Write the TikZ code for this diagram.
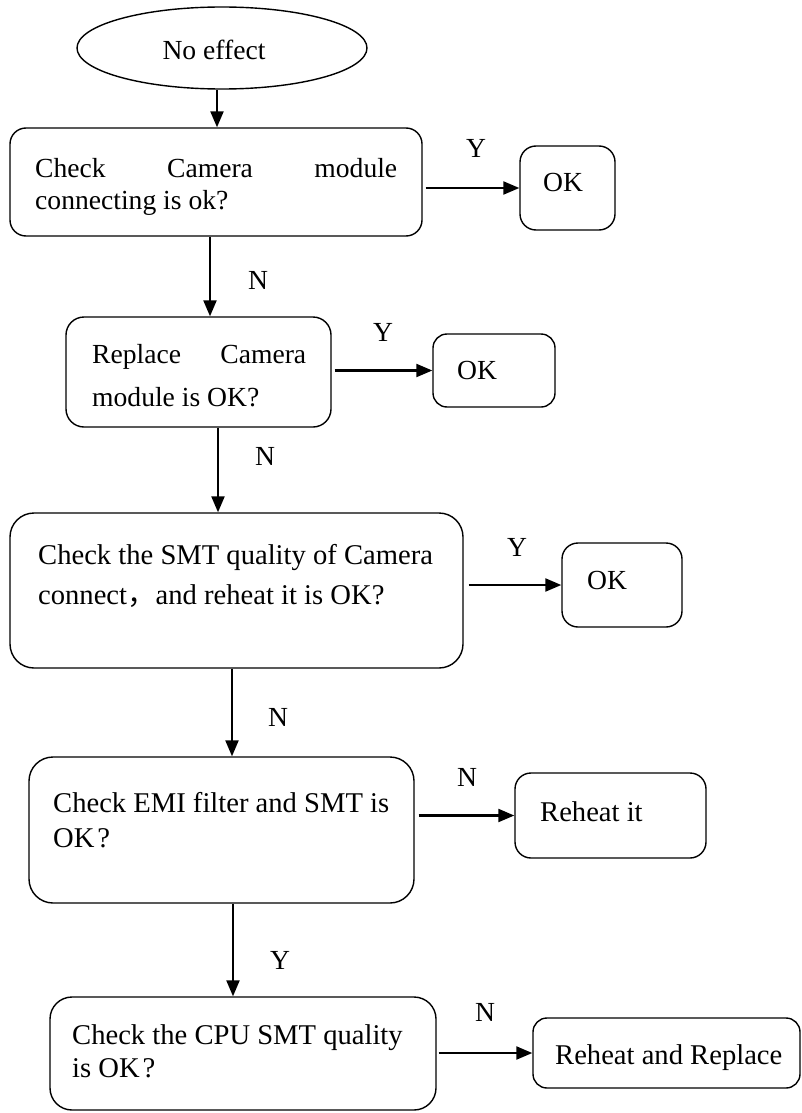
\documentclass[tikz,border=0pt]{standalone}
\usepackage{fontspec}
\setmainfont{Liberation Serif}
\newfontfamily\cjkfont{Noto Sans CJK SC}
\usetikzlibrary{arrows.meta,shapes.geometric}
\begin{document}
\begin{tikzpicture}[x=1pt,y=-1pt,
  every node/.style={font=\fontsize{27.6}{33}\selectfont},
  box/.style={draw, line width=1.4pt, rounded corners=#1, inner sep=0pt},
  box/.default=16pt,
  txt/.style={anchor=base west, inner sep=0pt},
  bigtxt/.style={txt, font=\fontsize{28.6}{34}\selectfont},
  lbl/.style={inner sep=0pt},
  arr/.style={line width=2.2pt, -{Triangle[length=16pt,width=13pt]}},
]
\useasboundingbox (0,0) rectangle (802,1113);

% start
\node[draw, ellipse, line width=1.4pt, minimum width=290pt, minimum height=82pt, inner sep=0pt] (e) at (222,48) {};
\node[lbl] (t0) at (214,50) {No effect};

% box 1
\node[box=16pt, minimum width=412pt, minimum height=108pt] (b1) at (216,182) {};
\node[txt] (t1a) at (35,177) {\hbox to 362pt{Check\hfill Camera\hfill module}};
\node[txt] (t1b) at (35,209) {connecting is ok?};
\node[box=16pt, minimum width=95pt, minimum height=84pt] (ok1) at (567.5,188) {};
\node[lbl] (tok1) at (563,182) {OK};
\node[lbl] (y1) at (476,148) {Y};

% box 2
\node[box=18pt, minimum width=265pt, minimum height=110pt] (b2) at (198.5,372) {};
\node[txt] (t2a) at (92,363) {\hbox to 214pt{Replace\hfill Camera}};
\node[txt] (t2b) at (92,406) {module is OK?};
\node[box=14pt, minimum width=122pt, minimum height=73pt] (ok2) at (494,370.5) {};
\node[lbl] (tok2) at (477,370) {OK};
\node[lbl] (y2) at (383,332) {Y};
\node[lbl] (n1) at (258,280) {N};

% box 3
\node[box=24pt, minimum width=453pt, minimum height=155pt] (b3) at (236.5,590.5) {};
\node[bigtxt] (t3a) at (38,564) {Check the SMT quality of Camera};
\node[bigtxt] (t3b) at (38,604) {connect{\cjkfont ，}and reheat it is OK?};
\node[box=16pt, minimum width=120pt, minimum height=84pt] (ok3) at (622,585) {};
\node[lbl] (tok3) at (607,580) {OK};
\node[lbl] (y3) at (517,547) {Y};
\node[lbl] (n2) at (265,456) {N};

% box 4
\node[box=24pt, minimum width=385pt, minimum height=146pt] (b4) at (221.5,830) {};
\node[bigtxt] (t4a) at (53,812) {Check EMI filter and SMT is};
\node[bigtxt] (t4b) at (53,847) {OK\kern3pt?};
\node[box=16pt, minimum width=191pt, minimum height=85pt] (rh) at (610.5,815.5) {};
\node[bigtxt] (trh) at (540,821) {Reheat it};
\node[lbl] (n4) at (467,777) {N};
\node[lbl] (n3) at (278,717) {N};

% box 5
\node[box=22pt, minimum width=386pt, minimum height=113pt] (b5) at (243,1053.5) {};
\node[bigtxt] (t5a) at (72,1044) {Check the CPU SMT quality};
\node[bigtxt] (t5b) at (72,1077) {is OK\kern3pt?};
\node[box=14pt, minimum width=267pt, minimum height=70pt] (rr) at (666.5,1053) {};
\node[bigtxt] (trr) at (555,1064) {Reheat and Replace};
\node[lbl] (n5) at (485,1012) {N};
\node[lbl] (y4) at (280,960) {Y};

% column coordinates for vertical connectors
\coordinate (x01) at (217,0);
\coordinate (x12) at (210,0);
\coordinate (x23) at (218,0);
\coordinate (x34) at (232,0);
\coordinate (x45) at (233,0);

\draw[arr] (e.south -| x01) -- (b1.north -| x01);
\draw[arr] (b1.south -| x12) -- (b2.north -| x12);
\draw[arr] (b2.south -| x23) -- (b3.north -| x23);
\draw[arr] (b3.south -| x34) -- (b4.north -| x34);
\draw[arr] (b4.south -| x45) -- (b5.north -| x45);

\draw[arr, shorten <=3pt] (b1.east |- ok1.west) -- (ok1.west);
\draw[arr, shorten <=3pt] (b2.east |- ok2.west) -- (ok2.west);
\draw[arr, shorten <=5pt] (b3.east |- ok3.west) -- (ok3.west);
\draw[arr, shorten <=4pt] (b4.east |- rh.west) -- (rh.west);
\draw[arr, shorten <=2pt] (b5.east |- rr.west) -- (rr.west);
\end{tikzpicture}
\end{document}
